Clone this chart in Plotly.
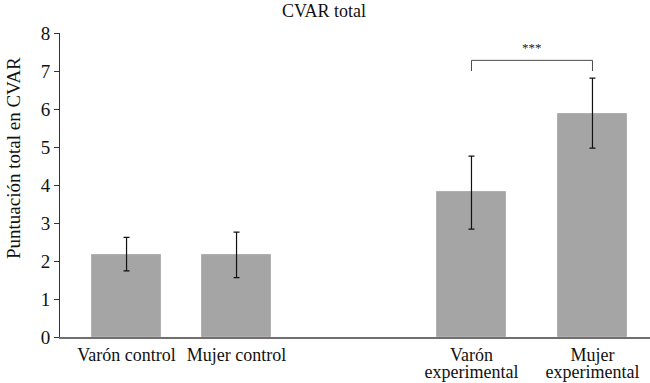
import plotly.graph_objects as go

cat_line1 = ["Varón control", "Mujer control", "Varón", "Mujer"]
cat_line2 = ["", "", "experimental", "experimental"]
x_pos = [1.0, 2.0, 4.136, 5.236]
values = [2.15, 2.15, 3.81, 5.88]
err_plus = [0.47, 0.61, 0.95, 0.93]
err_minus = [0.41, 0.59, 0.97, 0.91]
y_ticks = [0, 1, 2, 3, 4, 5, 6, 7, 8]
sig_pair = (2, 3)
sig_level = 7.28
sig_drop = 0.28
sig_label = "***"

FONT = "Liberation Serif"
W, H = 650, 383
X_RANGE = [0.395, 5.759]

fig = go.Figure()
fig.add_trace(go.Bar(
    x=x_pos, y=values, width=0.62,
    marker=dict(color="#a5a5a5", line=dict(color="#b0b0b0", width=1)),
    error_y=dict(type="data", symmetric=False, array=err_plus, arrayminus=err_minus,
                 color="#111111", thickness=1.2, width=3),
    showlegend=False,
))
# invisible companion trace so the second (label-line) x axis is drawn
fig.add_trace(go.Scatter(x=x_pos, y=values, xaxis="x2", yaxis="y", mode="markers",
                         marker=dict(opacity=0, size=1), showlegend=False, hoverinfo="skip"))

a, b = sig_pair
xa, xb = x_pos[a], x_pos[b]
fig.add_shape(type="path", xref="x", yref="y",
              path=f"M {xa} {sig_level - sig_drop} L {xa} {sig_level} L {xb} {sig_level} L {xb} {sig_level - sig_drop}",
              line=dict(color="#4a4a4a", width=1))
fig.add_annotation(x=(xa + xb) / 2, y=sig_level + 0.1, text=sig_label, showarrow=False,
                   xref="x", yref="y", yanchor="bottom", font=dict(family=FONT, size=13, color="#222"))

fig.add_annotation(x=-47 / 590, y=(337 - 158) / 304, xref="paper", yref="paper",
                   text="Puntuación total en CVAR", showarrow=False, textangle=-90,
                   xanchor="center", yanchor="middle",
                   font=dict(family=FONT, size=19, color="#111"))

line2_vals = [x for x, t in zip(x_pos, cat_line2) if t]
line2_text = [t for t in cat_line2 if t]

fig.update_layout(
    width=W, height=H,
    margin=dict(l=60, r=0, t=33, b=46, pad=0),
    plot_bgcolor="white", paper_bgcolor="white",
    font=dict(family=FONT, size=18, color="#111"),
    bargap=0,
    title=dict(text="CVAR total", x=324 / W, xref="container", xanchor="center",
               y=1 - 11 / H, yref="container", yanchor="middle",
               font=dict(family=FONT, size=18, color="#111")),
    xaxis=dict(range=X_RANGE, tickmode="array", tickvals=x_pos, ticktext=cat_line1,
               showline=True, linecolor="#707070", linewidth=1.5, ticks="", showgrid=False,
               zeroline=False, automargin=False, ticklabelstandoff=1,
               tickfont=dict(family=FONT, size=18, color="#111")),
    xaxis2=dict(range=X_RANGE, overlaying="x", anchor="y", side="bottom", tickmode="array",
                tickvals=line2_vals, ticktext=line2_text, showline=False, ticks="",
                showgrid=False, zeroline=False, automargin=False, ticklabelstandoff=22,
                tickfont=dict(family=FONT, size=18, color="#111")),
    yaxis=dict(range=[0, 8], tickvals=y_ticks, showline=True, linecolor="#333", linewidth=1,
               ticks="outside", ticklen=5, tickcolor="#333", showgrid=False, zeroline=False,
               automargin=False, tickfont=dict(family=FONT, size=19, color="#111")),
)
fig.write_html("out.html", config={"displayModeBar": False},
               post_script="document.body.style.margin='0';")
